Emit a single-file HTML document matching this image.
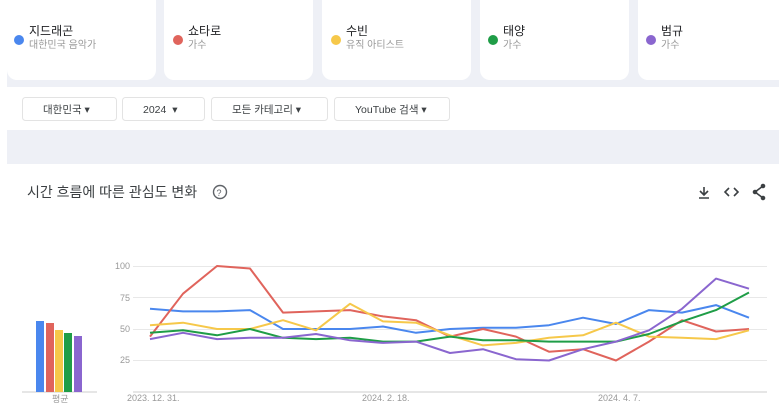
<!DOCTYPE html>
<html><head><meta charset="utf-8"><style>
html,body{margin:0;padding:0;width:779px;height:407px;overflow:hidden;background:#fff;font-family:"Liberation Sans","Noto Sans CJK KR",sans-serif}
</style></head><body>
<svg width="779" height="407" xmlns="http://www.w3.org/2000/svg" font-family="Liberation Sans, Noto Sans CJK KR, sans-serif">
<rect x="7" y="0" width="772" height="87" fill="#eef0f6"/>
<g fill="#fff">
<rect x="7" y="-10" width="149" height="90" rx="10"/>
<rect x="164" y="-10" width="149" height="90" rx="10"/>
<rect x="322" y="-10" width="149" height="90" rx="10"/>
<rect x="480" y="-10" width="149" height="90" rx="10"/>
<rect x="638" y="-10" width="150" height="90" rx="10"/>
</g>
<g font-size="12" fill="#202124">
<circle cx="19" cy="40" r="5" fill="#4a87ee"/><text x="29" y="35">지드래곤</text><text x="29" y="48" font-size="10" fill="#999">대한민국 음악가</text>
<circle cx="178" cy="40" r="5" fill="#e0645c"/><text x="188" y="35">쇼타로</text><text x="188" y="48" font-size="10" fill="#999">가수</text>
<circle cx="336" cy="40" r="5" fill="#f6c84a"/><text x="346" y="35">수빈</text><text x="346" y="48" font-size="10" fill="#999">유직 아티스트</text>
<circle cx="493" cy="40" r="5" fill="#1f9d47"/><text x="503" y="35">태양</text><text x="503" y="48" font-size="10" fill="#999">가수</text>
<circle cx="651" cy="40" r="5" fill="#8a66cf"/><text x="661" y="35">범규</text><text x="661" y="48" font-size="10" fill="#999">가수</text>
</g>
<g fill="#fff" stroke="#e3e3e3">
<rect x="22.5" y="97.5" width="94" height="23" rx="3"/>
<rect x="122.5" y="97.5" width="82" height="23" rx="3"/>
<rect x="211.5" y="97.5" width="116" height="23" rx="3"/>
<rect x="334.5" y="97.5" width="115" height="23" rx="3"/>
</g>
<g font-size="10.5" fill="#3c4043">
<text x="43" y="113">대한민국 ▾</text>
<text x="143" y="113">2024 &#160;▾</text>
<text x="232" y="113">모든 카테고리 ▾</text>
<text x="355" y="113">YouTube 검색 ▾</text>
</g>
<rect x="7" y="130" width="772" height="34" fill="#eef0f6"/>
<text x="27" y="197" font-size="14" fill="#3c4043">시간 흐름에 따른 관심도 변화</text>
<circle cx="220" cy="192" r="6.5" fill="none" stroke="#5f6368" stroke-width="1.4"/><text x="216.5" y="196" font-size="9" fill="#5f6368">?</text>
<g stroke="#3c4043" stroke-width="1.6" fill="none">
<path d="M704 187v8M700 191l4 4 4-4M699 198h10"/>
<path d="M729 188l-4 4 4 4M734 188l4 4-4 4"/>
<path d="M763 186l-8 6 8 6"/><circle cx="763" cy="186" r="1.5" fill="#3c4043"/><circle cx="755" cy="192" r="1.5" fill="#3c4043"/><circle cx="763" cy="198" r="1.5" fill="#3c4043"/>
</g>
<g stroke="#e8e8e8" stroke-width="1">
<line x1="133" y1="266.5" x2="767" y2="266.5"/><line x1="133" y1="297.5" x2="767" y2="297.5"/><line x1="133" y1="329.5" x2="767" y2="329.5"/><line x1="133" y1="360.5" x2="767" y2="360.5"/>
</g>
<line x1="133" y1="392" x2="767" y2="392" stroke="#ccc"/>
<line x1="22" y1="392" x2="97" y2="392" stroke="#ccc"/>
<g font-size="9" fill="#999" text-anchor="end">
<text x="130" y="269">100</text><text x="130" y="301">75</text><text x="130" y="332">50</text><text x="130" y="363">25</text>
</g>
<g font-size="9" fill="#999">
<text x="127" y="401">2023. 12. 31.</text><text x="362" y="401">2024. 2. 18.</text><text x="598" y="401">2024. 4. 7.</text>
<text x="52" y="402">평균</text>
</g>
<rect x="36" y="321" width="8" height="71" fill="#4a87ee"/>
<rect x="46" y="323" width="8" height="69" fill="#e0645c"/>
<rect x="55" y="330" width="8" height="62" fill="#f6c84a"/>
<rect x="64" y="333" width="8" height="59" fill="#1f9d47"/>
<rect x="74" y="336" width="8" height="56" fill="#8a66cf"/>
<g fill="none" stroke-width="2" stroke-linejoin="round">
<polyline stroke="#4a87ee" points="150,308.8 183,311.4 217,311.4 250,310.1 283,329 316,329 350,329 383,326.5 416,332.8 450,329 483,327.7 516,327.7 549,325.2 583,317.7 616,324 649,310.1 682,312.6 716,305.1 749,317.7"/>
<polyline stroke="#e0645c" points="150,336.6 183,293.7 217,266 250,268.5 283,312.6 316,311.4 350,310.1 383,316.4 416,320.2 450,336.6 483,329 516,336.6 549,351.7 583,349.2 616,360.5 649,341.6 682,320.2 716,331.5 749,329"/>
<polyline stroke="#f6c84a" points="150,325.2 183,322.7 217,329 250,329 283,320.2 316,330.3 350,303.8 383,321.4 416,322.7 450,335.3 483,345.4 516,342.9 549,337.8 583,335.3 616,322.7 649,336.6 682,337.8 716,339.1 749,330.3"/>
<polyline stroke="#1f9d47" points="150,332.8 183,330.3 217,335.3 250,329 283,337.8 316,339.1 350,337.8 383,341.6 416,341.6 450,336.6 483,340.3 516,340.3 549,341.6 583,341.6 616,341.6 649,334 682,321.4 716,310.1 749,292.5"/>
<polyline stroke="#8a66cf" points="150,339.1 183,332.8 217,339.1 250,337.8 283,337.8 316,334 350,340.3 383,342.9 416,341.6 450,353 483,349.2 516,359.2 549,360.5 583,349.2 616,341.6 649,330.3 682,308.8 716,278.6 749,288.7"/>
</g>
</svg>
</body></html>
